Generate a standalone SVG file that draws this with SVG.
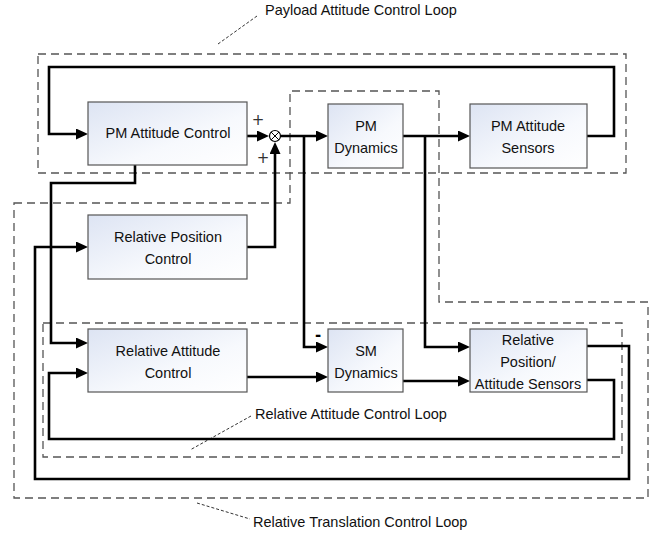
<svg xmlns="http://www.w3.org/2000/svg" width="656" height="534" viewBox="0 0 656 534">
<defs>
<linearGradient id="bf" x1="0" y1="0" x2="1" y2="1">
<stop offset="0" stop-color="#dde4f3"/>
<stop offset="0.6" stop-color="#f7f9fd"/>
<stop offset="1" stop-color="#ffffff"/>
</linearGradient>
<marker id="ah" markerUnits="userSpaceOnUse" markerWidth="12" markerHeight="12" refX="1" refY="5.5" orient="auto">
<path d="M0,0 L12,5.5 L0,11 z" fill="#000"/>
</marker>
</defs>
<style>
.box{fill:url(#bf);stroke:#555;stroke-width:1.2}
.t{font-family:"Liberation Sans",Arial,sans-serif;font-size:14.5px;fill:#111;text-anchor:middle}
.lt{font-family:"Liberation Sans",Arial,sans-serif;font-size:14.5px;fill:#111}
.loop{fill:none;stroke:#555;stroke-width:1.3;stroke-dasharray:8 5}
.lead{fill:none;stroke:#333;stroke-width:1;stroke-dasharray:3 2}
.c{fill:none;stroke:#000;stroke-width:2.6;marker-end:url(#ah)}
.sg{font-family:"DejaVu Sans",sans-serif;font-size:15px;fill:#333;text-anchor:middle}
</style>
<g id="loops">
<rect class="loop" x="38" y="54" width="588" height="119"/>
<path class="loop" d="M14,203 H290 V91 H439 V302 H648 V498 H14 Z"/>
<rect class="loop" x="43" y="323" width="579" height="134"/>
<path class="lead" d="M257,16 L218,44"/>
<path class="lead" d="M251,416 L190,450"/>
<path class="lead" d="M197,503 L250,519"/>
<text class="lt" x="265" y="15">Payload Attitude Control Loop</text>
<text class="lt" x="255" y="419">Relative Attitude Control Loop</text>
<text class="lt" x="253" y="527">Relative Translation Control Loop</text>
</g>
<g id="connectors">
<path class="c" d="M587,136 H614 V67 H49 V134 H77"/>
<path class="c" d="M247,136 H258"/>
<path class="c" d="M281,136 H317"/>
<path class="c" d="M304,136 V347 H317"/>
<path class="c" d="M403,136 H459"/>
<path class="c" d="M425,136 V347 H459"/>
<path class="c" d="M135,165 V183 H51 V343 H77"/>
<path class="c" d="M247,247 H275 V153"/>
<path class="c" d="M587,346 H629 V479 H35 V247 H77"/>
<path class="c" d="M587,380 H614 V439 H49 V373 H77"/>
<path class="c" d="M247,377 H317"/>
<path class="c" d="M403,381 H459"/>
</g>
<g id="sum">
<circle cx="275" cy="136" r="5.5" fill="#fff" stroke="#000" stroke-width="1.2"/>
<path d="M271.1,132.1 L278.9,139.9 M278.9,132.1 L271.1,139.9" stroke="#000" stroke-width="1"/>
<text class="sg" x="258" y="125">+</text>
<text class="sg" x="263" y="163">+</text>
<text class="sg" x="318" y="340" style="font-weight:bold;fill:#000">-</text>
</g>
<g id="pm-attitude-control">
<rect class="box" x="88" y="102" width="159" height="63"/>
<text class="t" x="168" y="138">PM Attitude Control</text>
</g>
<g id="pm-dynamics">
<rect class="box" x="328" y="104" width="75" height="64"/>
<text class="t" x="366" y="131">PM</text>
<text class="t" x="366" y="153">Dynamics</text>
</g>
<g id="pm-attitude-sensors">
<rect class="box" x="470" y="104" width="117" height="64"/>
<text class="t" x="528" y="131">PM Attitude</text>
<text class="t" x="528" y="153">Sensors</text>
</g>
<g id="relative-position-control">
<rect class="box" x="88" y="215" width="159" height="64"/>
<text class="t" x="168" y="242">Relative Position</text>
<text class="t" x="168" y="264">Control</text>
</g>
<g id="relative-attitude-control">
<rect class="box" x="88" y="329" width="159" height="63"/>
<text class="t" x="168" y="356">Relative Attitude</text>
<text class="t" x="168" y="378">Control</text>
</g>
<g id="sm-dynamics">
<rect class="box" x="328" y="329" width="75" height="63"/>
<text class="t" x="366" y="356">SM</text>
<text class="t" x="366" y="378">Dynamics</text>
</g>
<g id="relative-sensors">
<rect class="box" x="470" y="329" width="117" height="63"/>
<text class="t" x="528" y="345">Relative</text>
<text class="t" x="528" y="367">Position/</text>
<text class="t" x="528" y="389">Attitude Sensors</text>
</g>
</svg>
